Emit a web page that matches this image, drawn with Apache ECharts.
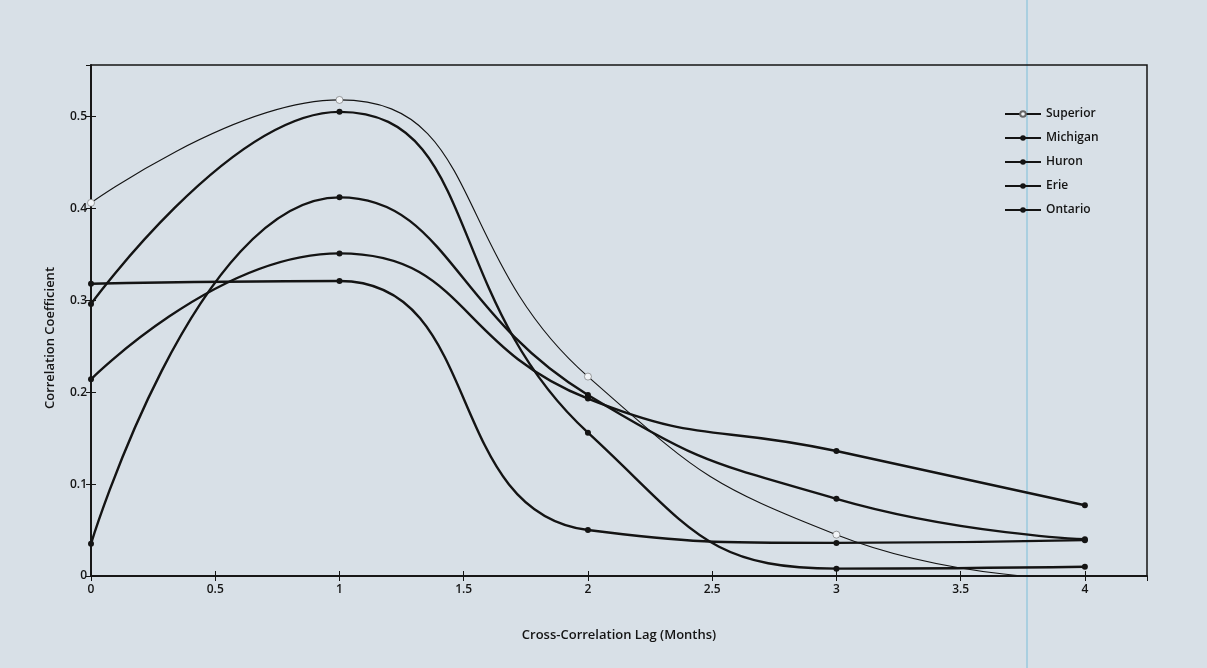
<!DOCTYPE html>
<html>
<head>
<meta charset="utf-8">
<script src="https://cdn.jsdelivr.net/npm/echarts@6/dist/echarts.min.js"></script>
<style>
html,body{margin:0;padding:0;background:#d8e0e7;}
#c{width:1207px;height:668px;}
</style>
</head>
<body>
<div id="c"></div>
<script>
// Data
const lags = [0, 1, 2, 3, 4];
const seriesNames = ['Superior', 'Michigan', 'Huron', 'Erie', 'Ontario'];
const superior = [0.406, 0.518, 0.217, 0.045, -0.004];
const michigan = [0.296, 0.505, 0.156, 0.008, 0.010];
const huron    = [0.214, 0.351, 0.193, 0.136, 0.077];
const erie     = [0.035, 0.412, 0.197, 0.084, 0.040];
const ontario  = [0.318, 0.321, 0.050, 0.036, 0.039];
const xTitle = 'Cross-Correlation Lag (Months)';
const yTitle = 'Correlation Coefficient';

const values = [superior, michigan, huron, erie, ontario];
const FONT = "'Open Sans', 'Noto Sans', sans-serif";
const INK = '#141414';

const chart = echarts.init(document.getElementById('c'));

function pairs(arr) { return lags.map((x, i) => [x, arr[i]]); }

const series = values.map((arr, i) => {
  const isSup = i === 0;
  return {
    name: seriesNames[i],
    type: 'line',
    data: pairs(arr),
    smooth: 0.5,
    symbol: 'circle',
    symbolSize: isSup ? 7 : 6,
    showSymbol: true,
    lineStyle: { color: INK, width: isSup ? 1.1 : 2.4 },
    itemStyle: isSup ? { color: '#f2f5f8', borderColor: '#666', borderWidth: 0.6 } : { color: INK },
    emphasis: { disabled: true },
    z: isSup ? 3 : 2
  };
});

const axisLabelStyle = { color: INK, fontFamily: FONT, fontSize: 12, fontWeight: 600 };

chart.setOption({
  backgroundColor: '#d8e0e7',
  animation: false,
  grid: { left: 91, right: 60, top: 65, bottom: 92, show: true, borderColor: INK, borderWidth: 1.5, backgroundColor: 'transparent' },
  legend: {
    orient: 'vertical',
    left: 999,
    top: 102,
    itemWidth: 36,
    itemHeight: 7,
    itemGap: 10,
    data: seriesNames,
    textStyle: { color: INK, fontFamily: FONT, fontSize: 12, fontWeight: 600, lineHeight: 14 }
  },
  xAxis: [{
    type: 'value', min: 0, max: 4.25, interval: 0.5,
    axisLine: { show: true, lineStyle: { color: INK, width: 1.5 } },
    axisTick: { show: true, inside: true, length: 5, lineStyle: { color: INK } },
    axisLabel: Object.assign({ margin: 8, showMaxLabel: false }, axisLabelStyle),
    splitLine: { show: false },
    name: xTitle, nameLocation: 'middle', nameGap: 53,
    nameTextStyle: { color: INK, fontFamily: FONT, fontSize: 13, fontWeight: 600 }
  }, {
    type: 'value', min: 0, max: 4.25, interval: 0.5, position: 'top',
    axisLine: { show: true, lineStyle: { color: INK, width: 1.5 } },
    axisTick: { show: true, inside: true, length: 5, lineStyle: { color: INK } },
    axisLabel: { show: false }, splitLine: { show: false }
  }],
  yAxis: [{
    type: 'value', min: 0, max: 0.556, interval: 0.1,
    axisLine: { show: true, lineStyle: { color: INK, width: 1.5 } },
    axisTick: { show: true, inside: true, length: 5, lineStyle: { color: INK } },
    axisLabel: Object.assign({ margin: 4, showMaxLabel: false }, axisLabelStyle),
    splitLine: { show: false }
  }, {
    type: 'value', min: 0, max: 0.556, interval: 0.1, position: 'right',
    axisLine: { show: true, lineStyle: { color: INK, width: 1.5 } },
    axisTick: { show: true, inside: true, length: 5, lineStyle: { color: INK } },
    axisLabel: { show: false }, splitLine: { show: false }
  }],
  graphic: [{
    type: 'text', x: 50, y: 338, rotation: Math.PI / 2,
    style: { text: yTitle, fill: INK, font: '600 13px ' + FONT, textAlign: 'center', textVerticalAlign: 'middle' }
  }, {
    type: 'rect', shape: { x: 1026, y: 0, width: 2, height: 668 },
    style: { fill: '#a9cfe0' }, z: -1, silent: true
  }],
  series: series
});
</script>
</body>
</html>
